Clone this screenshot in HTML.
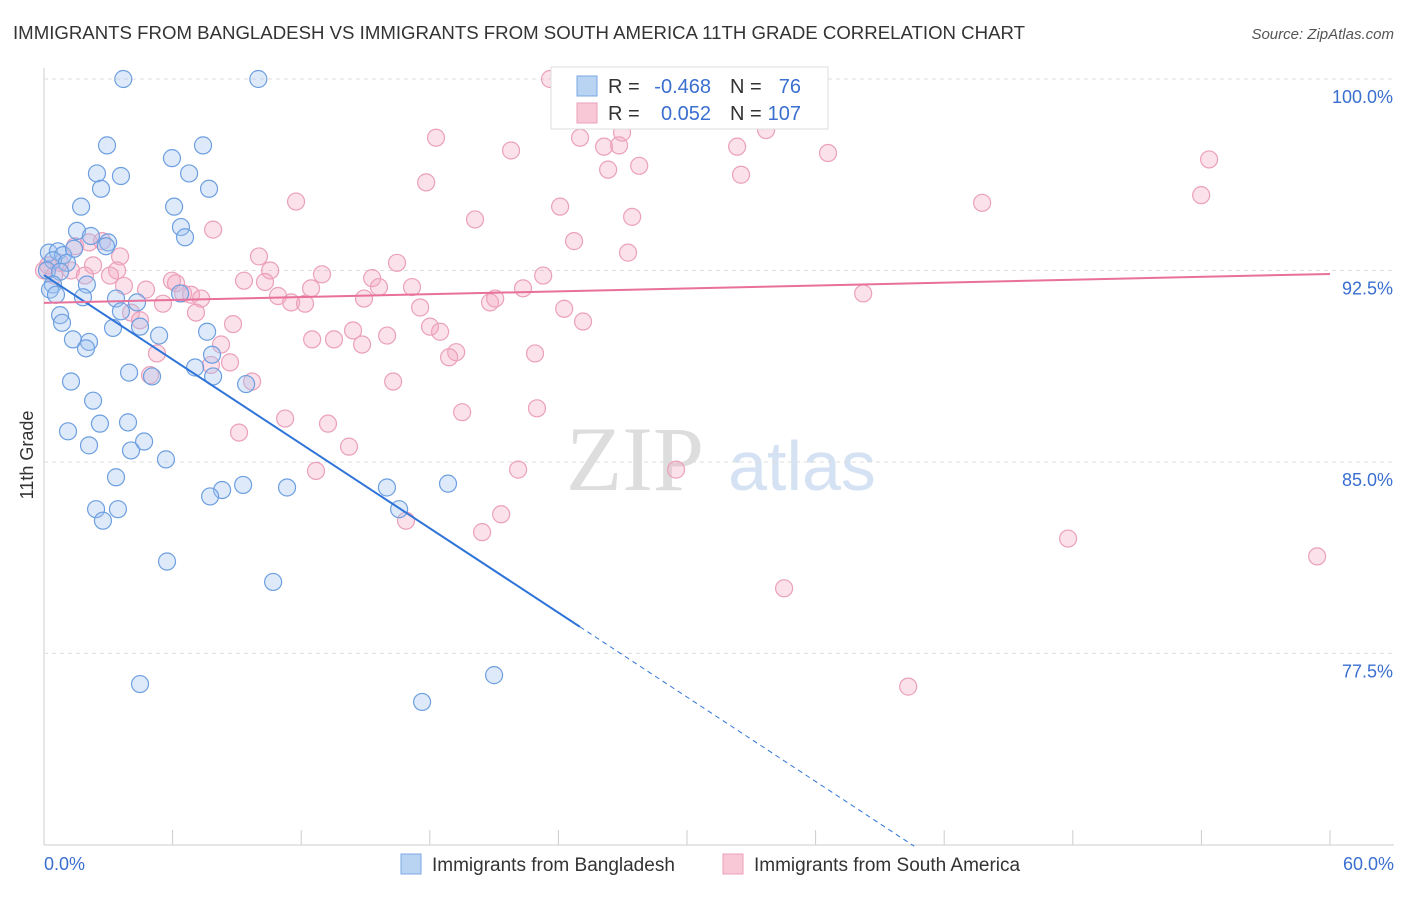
<!DOCTYPE html>
<html><head><meta charset="utf-8"><style>
body{margin:0;background:#fff;font-family:"Liberation Sans",sans-serif}
</style></head><body>
<svg width="1406" height="892" xmlns="http://www.w3.org/2000/svg" id="chart">
<text x="13" y="39" font-size="18" fill="#333" textLength="1012" lengthAdjust="spacingAndGlyphs">IMMIGRANTS FROM BANGLADESH VS IMMIGRANTS FROM SOUTH AMERICA 11TH GRADE CORRELATION CHART</text>
<text x="1394" y="39" font-size="15" fill="#555" font-style="italic" text-anchor="end">Source: ZipAtlas.com</text>
<text x="33" y="455" font-size="18" fill="#333" text-anchor="middle" transform="rotate(-90 33 455)">11th Grade</text>
<g><text x="635" y="490" font-size="92" fill="#ddd" font-family="Liberation Serif" text-anchor="middle">ZIP</text><text x="802" y="490" font-size="70" fill="#d5e2f3" text-anchor="middle">atlas</text></g>
<g id="grid"></g><g id="pts"></g><g id="lines"></g>
<g>
<rect x="551" y="67" width="277" height="62" fill="#fff" stroke="#ddd"/>
<rect x="577" y="76" width="20" height="20" fill="#b9d3f3" stroke="#7aa8e3"/>
<rect x="577" y="103" width="20" height="20" fill="#f8c8d7" stroke="#eaa0ba"/>
<text x="608" y="93" font-size="20" fill="#333">R =</text>
<text x="711" y="93" font-size="20" fill="#3a6fd0" text-anchor="end">-0.468</text>
<text x="730" y="93" font-size="20" fill="#333">N =</text>
<text x="801" y="93" font-size="20" fill="#3a6fd0" text-anchor="end">76</text>
<text x="608" y="120" font-size="20" fill="#333">R =</text>
<text x="711" y="120" font-size="20" fill="#3a6fd0" text-anchor="end">0.052</text>
<text x="730" y="120" font-size="20" fill="#333">N =</text>
<text x="801" y="120" font-size="20" fill="#3a6fd0" text-anchor="end">107</text>
</g>
<g>
<rect x="401" y="854" width="20" height="20" fill="#b9d3f3" stroke="#7aa8e3"/>
<text x="432" y="871" font-size="19" fill="#333">Immigrants from Bangladesh</text>
<rect x="723" y="854" width="20" height="20" fill="#f8c8d7" stroke="#eaa0ba"/>
<text x="754" y="871" font-size="19" fill="#333">Immigrants from South America</text>
</g>
<text x="44" y="870" font-size="18" fill="#3a6fd0">0.0%</text>
<text x="1394" y="870" font-size="18" fill="#3a6fd0" text-anchor="end">60.0%</text>
</svg>
<script>
const yTicks=[100,92.5,85,77.5];
const yTickLabels=["100.0%","92.5%","85.0%","77.5%"];
const xTicks=[0,6,12,18,24,30,36,42,48,54,60];
const blueX=[3.7,10.0,2.94,7.42,5.97,2.47,3.59,6.77,2.66,7.7,1.73,6.07,6.39,1.54,2.19,6.58,2.99,2.89,0.23,0.65,0.89,1.4,0.42,1.07,0.14,0.75,0.42,2.0,0.28,0.56,1.82,3.36,4.34,3.59,0.75,0.84,3.22,4.48,5.37,7.61,1.35,2.1,1.96,7.84,7.05,3.97,5.04,7.89,9.43,1.26,2.29,3.92,2.61,1.12,4.67,2.1,4.06,5.69,3.36,9.29,8.31,7.75,11.34,16.0,18.85,2.43,3.45,2.75,16.57,5.74,10.69,4.48,21.0,17.64,6.35];
const blueY=[100,100,97.4,97.4,96.9,96.3,96.2,96.3,95.7,95.7,95.0,95.0,94.2,94.05,93.85,93.8,93.6,93.45,93.2,93.25,93.1,93.35,92.9,92.8,92.5,92.45,91.95,91.95,91.75,91.55,91.45,91.4,91.25,90.9,90.75,90.45,90.25,90.3,89.95,90.1,89.8,89.7,89.45,89.2,88.7,88.5,88.35,88.35,88.05,88.15,87.4,86.55,86.5,86.2,85.8,85.65,85.45,85.1,84.4,84.1,83.9,83.65,84.0,84.0,84.15,83.15,83.15,82.7,83.15,81.1,80.3,76.3,76.65,75.6,91.6];
const pinkX=[23.61,35.28,18.29,21.79,25.01,26.13,26.83,26.97,27.77,26.32,32.34,33.69,36.58,32.52,54.36,17.83,11.76,24.08,20.11,27.44,53.99,43.77,7.89,24.73,2.1,2.71,1.45,3.55,10.03,27.25,16.47,2.29,3.41,3.08,1.26,1.91,10.55,12.97,15.31,23.29,5.97,6.16,3.73,4.76,9.33,10.31,12.46,15.63,17.17,22.35,38.22,6.49,6.86,7.33,10.92,11.53,12.18,14.93,17.55,20.81,21.05,24.27,5.55,4.06,4.48,7.09,8.82,25.15,18.01,14.42,16.01,18.48,13.53,12.51,14.84,19.23,18.9,22.91,5.27,8.26,8.68,7.79,4.95,9.71,16.29,23.0,19.51,11.25,13.25,9.1,14.23,12.69,22.12,29.49,21.33,16.89,20.44,47.78,59.4,34.53,40.32,0,0.19,0.75,0.47];
const pinkY=[100,100,97.7,97.2,97.7,97.35,97.4,97.9,96.6,96.45,97.35,98.0,97.1,96.25,96.85,95.95,95.2,95.0,94.5,94.6,95.45,95.15,94.1,93.65,93.6,93.65,93.45,93.05,93.05,93.2,92.8,92.7,92.5,92.3,92.5,92.3,92.5,92.35,92.2,92.3,92.1,92.0,91.9,91.75,92.1,92.05,91.8,91.85,91.85,91.8,91.6,91.6,91.55,91.4,91.5,91.25,91.2,91.4,91.05,91.25,91.4,91.0,91.2,90.85,90.55,90.85,90.4,90.5,90.3,90.15,89.95,90.1,89.8,89.8,89.6,89.3,89.1,89.25,89.25,89.6,88.9,88.8,88.4,88.15,88.15,87.1,86.95,86.7,86.5,86.15,85.6,84.65,84.7,84.7,82.95,82.7,82.25,82.0,81.3,80.05,76.2,92.5,92.7,92.8,92.3];
const blueTrend=[92.32,-0.551];
const pinkTrend=[91.23,0.0189];
const NS="http://www.w3.org/2000/svg";
function sx(v){return 44+v/60*1286;}
function sy(v){return 79+(100-v)*25.53;}
function mk(t,a,p){const e=document.createElementNS(NS,t);for(const k in a)e.setAttribute(k,a[k]);p.appendChild(e);return e;}
const grid=document.getElementById('grid');
mk('line',{x1:44,y1:68,x2:44,y2:845,stroke:'#ccc'},grid);
mk('line',{x1:44,y1:845,x2:1394,y2:845,stroke:'#ccc'},grid);
yTicks.forEach((t,i)=>{
 const l=mk('line',{x1:44,y1:sy(t),x2:1394,y2:sy(t),stroke:'#ddd','stroke-dasharray':'4,4'},grid);
 
 
 const tx=mk('text',{x:1393,y:sy(t)+24,'font-size':18,fill:'#3a6fd0','text-anchor':'end'},grid);
 tx.textContent=yTickLabels[i];
 
 
});
xTicks.forEach(t=>{
 const l=mk('line',{x1:sx(t),y1:830,x2:sx(t),y2:845,stroke:'#ccc'},grid);
 
 
});
const pts=document.getElementById('pts');
pinkX.forEach((x,i)=>{
 const c=mk('circle',{cx:sx(x),cy:sy(pinkY[i]),r:8.5,fill:'rgba(244,170,196,0.35)',stroke:'#eba0bb','stroke-width':1.2},pts);
 
 
});
blueX.forEach((x,i)=>{
 const c=mk('circle',{cx:sx(x),cy:sy(blueY[i]),r:8.5,fill:'rgba(160,196,240,0.35)',stroke:'#6d9fe0','stroke-width':1.2},pts);
 
 
});
const lines=document.getElementById('lines');
const bt=x=>blueTrend[0]+blueTrend[1]*x, pt=x=>pinkTrend[0]+pinkTrend[1]*x;
let l1=mk('line',{x1:sx(0),y1:sy(bt(0)),x2:sx(25),y2:sy(bt(25)),stroke:'#2f74d8','stroke-width':2},lines);


let l2=mk('line',{x1:sx(25),y1:sy(bt(25)),x2:sx(40.6),y2:sy(bt(40.6)),stroke:'#2f74d8','stroke-width':1,'stroke-dasharray':'5,4'},lines);


let l3=mk('line',{x1:sx(0),y1:sy(pt(0)),x2:sx(60),y2:sy(pt(60)),stroke:'#e8709a','stroke-width':2},lines);


</script>
</body></html>
